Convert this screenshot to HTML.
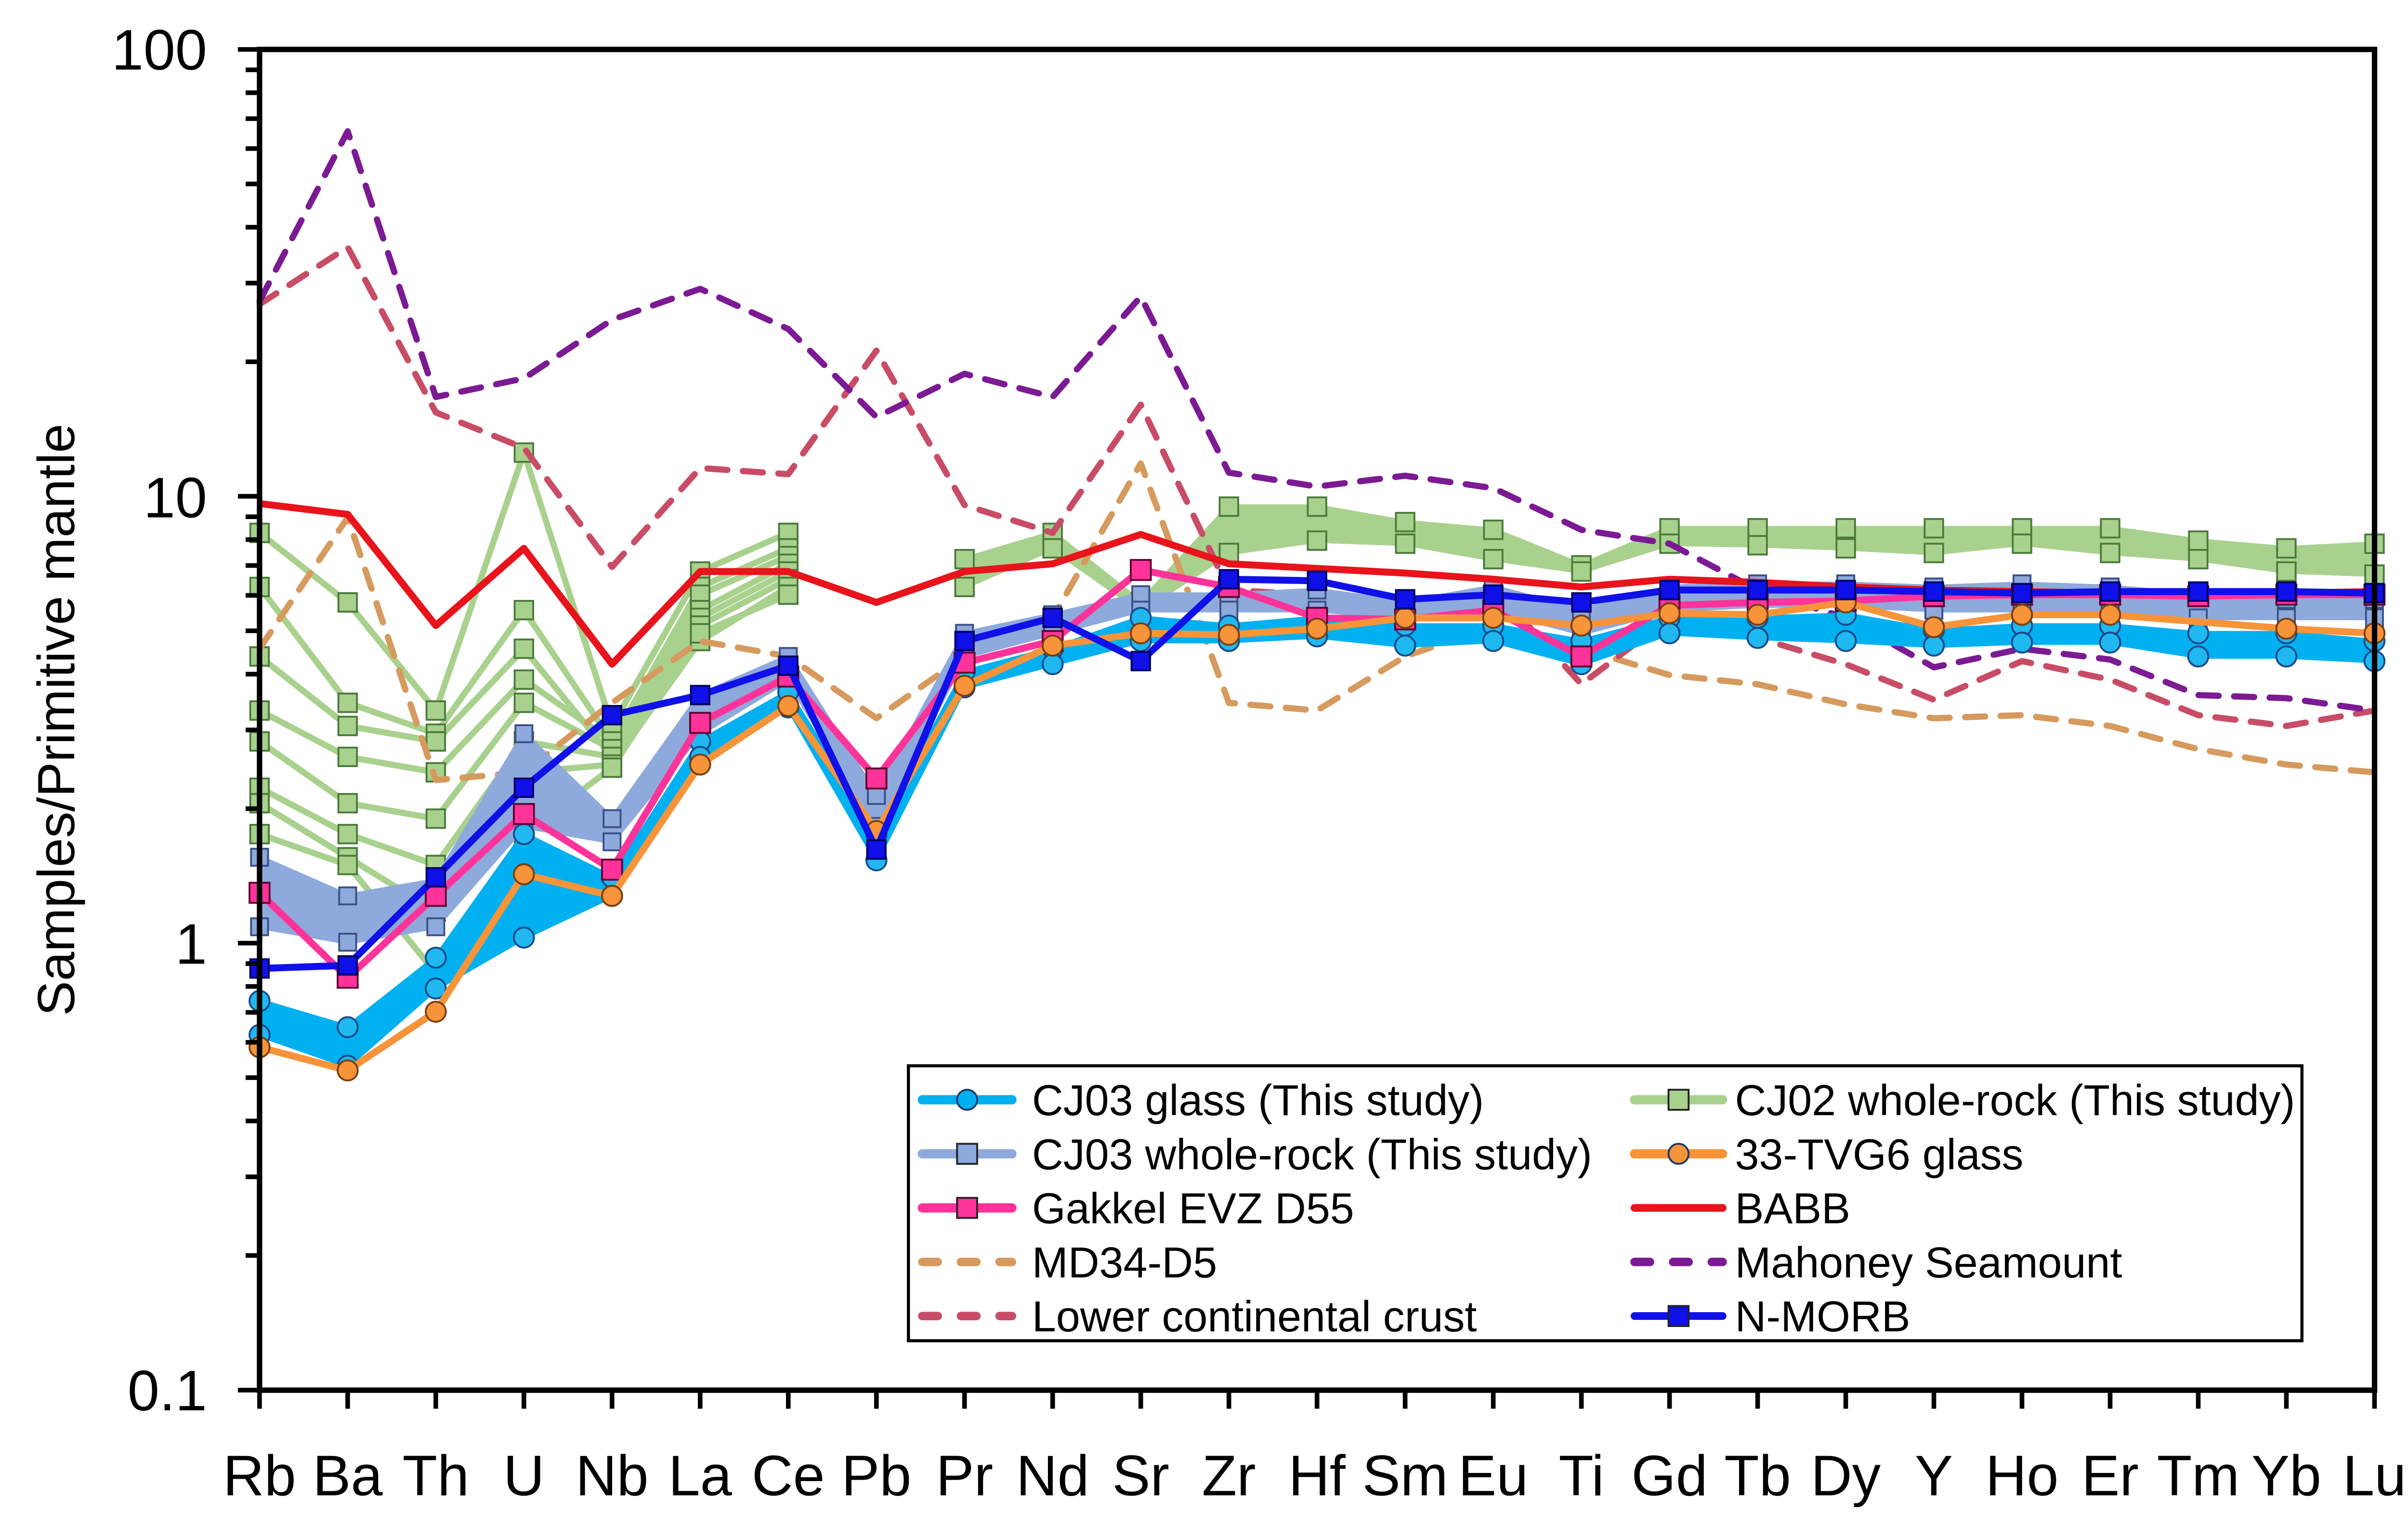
<!DOCTYPE html>
<html><head><meta charset="utf-8"><style>
html,body{margin:0;padding:0;background:#fff;}
svg{display:block;}
text{font-family:"Liberation Sans",Arial,sans-serif;fill:#000;}
</style></head><body>
<svg id="s" width="5030" height="3163" viewBox="0 0 1568 986" preserveAspectRatio="none" xmlns="http://www.w3.org/2000/svg">
<rect width="1568" height="986" fill="#fff"/>
<g id="data"></g>
<rect x="168" y="32" width="1369" height="868" fill="none" stroke="#000" stroke-width="3.5"/>
<g id="ticks" stroke="#000"></g>
<g font-size="37" text-anchor="end">
<text x="134" y="45">100</text>
<text x="134" y="335">10</text>
<text x="134" y="624">1</text>
<text x="134" y="913">0.1</text>
</g>
<text transform="translate(48,466) rotate(-90)" font-size="34" text-anchor="middle">Samples/Primitive mantle</text>
<g id="xl" font-size="37" text-anchor="middle"></g>
<rect x="588" y="690" width="902" height="178" fill="#fff" stroke="#000" stroke-width="2"/>
<g id="leg"></g>
<g font-size="28">
<text x="668" y="722">CJ03 glass (This study)</text>
<text x="668" y="757">CJ03 whole-rock (This study)</text>
<text x="668" y="792">Gakkel EVZ D55</text>
<text x="668" y="827">MD34-D5</text>
<text x="668" y="862">Lower continental crust</text>
<text x="1123" y="722">CJ02 whole-rock (This study)</text>
<text x="1123" y="757">33-TVG6 glass</text>
<text x="1123" y="792">BABB</text>
<text x="1123" y="827">Mahoney Seamount</text>
<text x="1123" y="862">N-MORB</text>
</g>
</svg>
<script>
const NS="http://www.w3.org/2000/svg";
const X=i=>168+57.04*i;
const els=["Rb","Ba","Th","U","Nb","La","Ce","Pb","Pr","Nd","Sr","Zr","Hf","Sm","Eu","Ti","Gd","Tb","Dy","Y","Ho","Er","Tm","Yb","Lu"];
function mk(p,tag,a){const e=document.createElementNS(NS,tag);for(const k in a)e.setAttribute(k,a[k]);p.appendChild(e);return e;}
const D=document.getElementById("data"),T=document.getElementById("ticks"),XL=document.getElementById("xl"),L=document.getElementById("leg");
els.forEach((n,i)=>{mk(T,"line",{x1:X(i),x2:X(i),y1:900,y2:912,"stroke-width":3});const t=mk(XL,"text",{x:X(i),y:968});t.textContent=n;});
for(let d=0;d<3;d++){const y0=32+289.3*(d+1);mk(T,"line",{x1:154,x2:168,y1:y0-289.3,y2:y0-289.3,"stroke-width":3});
 for(let m=2;m<=9;m++){const y=y0-289.3*Math.log10(m);mk(T,"line",{x1:159,x2:168,y1:y,y2:y,"stroke-width":3});}}
mk(T,"line",{x1:154,x2:168,y1:900,y2:900,"stroke-width":3});
const pts=(ys,off=0)=>ys.map((y,i)=>y==null?null:[X(i+off),y]).filter(p=>p);
const path=ps=>"M"+ps.map(p=>p.join(",")).join("L");
function line(ys,c,w,dash,off=0){mk(D,"path",{d:path(pts(ys,off)),fill:"none",stroke:c,"stroke-width":w,"stroke-dasharray":dash||"none","stroke-linejoin":"round","stroke-linecap":dash?"round":"butt"});}
function band(up,lo,c,off=0){const a=pts(up,off),b=pts(lo,off).reverse();mk(D,"path",{d:path(a.concat(b))+"Z",fill:c,stroke:c,"stroke-width":3});}
function marks(ys,type,fill,stroke,off=0,r=6.5){pts(ys,off).forEach(([x,y])=>{if(type=="c")mk(D,"circle",{cx:x,cy:y,r:r,fill:fill,stroke:stroke,"stroke-width":1.2});else mk(D,"rect",{x:x-r,y:y-r,width:2*r,height:2*r,fill:fill,stroke:stroke,"stroke-width":1.2});});}
const G="#A9D18E";
const gl=[[345,390,460,293,470,370,345],[380,455,475,395,480,380,355],[425,470,480,420,490,385,360],[460,490,500,440,480,395,365],[480,520,530,455,485,400,370],[510,540,560,480,490,405,375],[520,555,590,500,495,415,380],[540,560,630,540,497,410,385]];
gl.forEach(l=>line(l,G,4));
const gu=[362,345,390,328,328,338,343,366,342,342,342,342,342,342,350,355,352],glo=[380,355,395,358,350,352,362,370,352,353,355,358,352,358,362,370,372];
band(gu,glo,G,8);
gl.forEach(l=>marks(l,"s",G,"#4a7a3a",0,6));marks(gu,"s",G,"#4a7a3a",8,6);marks(glo,"s",G,"#4a7a3a",8,6);
line([420,335,505,500,455,415,425,465,425,400,300,455,460,425,405,420,437,443,456,465,463,470,485,495,500],"#D69A5E",4,"13,10");
line([197,160,267,290,367,303,307,227,327,345,262,382,385,400,380,443,400,413,430,453,428,440,463,470,460],"#C94C66",4,"13,10");
line([195,85,257,245,207,187,213,270,242,257,192,306,315,308,316,343,352,382,400,432,420,427,450,452,460],"#7B1A93",4,"13,10");
const wu=[555,580,570,475,530,450,425,515,410,398,385,385,382,390,380,395,380,378,378,380,378,380,385,388,388],wl=[600,610,600,535,545,475,440,535,425,410,395,395,395,400,395,410,395,392,392,395,395,395,400,400,400];
band(wu,wl,"#8EA9DB");marks(wu,"s","#8EA9DB","#3a4f8a",0,5.5);marks(wl,"s","#8EA9DB","#3a4f8a",0,5.5);
const cu=[648,665,620,540,568,480,448,540,435,420,400,405,400,405,405,415,400,400,398,408,405,405,410,410,415],cl=[670,690,640,607,580,490,458,557,445,430,415,415,412,418,415,430,410,413,415,418,416,416,425,425,428];
band(cu,cl,"#00B0F0");marks(cu,"c","#1FB8F0","#1a4a8a",0,6.5);marks(cl,"c","#1FB8F0","#1a4a8a",0,6.5);
line([326,333,405,355,430,370,370,390,370,365,346,365,368,371,375,380,375,377,380,382,383,384,384,384,383],"#E8131B",4.5);
const gk=[578,633,580,527,563,468,438,504,429,415,369,380,400,401,395,425,392,390,389,386,385,385,386,385,385];
line(gk,"#FF3399",4.5);marks(gk,"s","#FF3399","#600030",0,6.5);
const tv=[678,693,655,566,580,495,457,538,444,418,410,411,407,400,400,405,397,398,390,406,398,398,null,407,410];
line(tv,"#F7943A",4.5);marks(tv,"c","#F7943A","#7a4010",0,6.5);
const nm=[627,625,568,510,463,450,431,550,415,400,428,375,376,388,385,390,382,382,382,383,384,383,383,383,384];
line(nm,"#1010E8",4.5);marks(nm,"s","#1010E8","#000060",0,6);
function lg(x1,x2,y,c,w,dash,mt,mf){mk(L,"line",{x1:x1,x2:x2,y1:y,y2:y,stroke:c,"stroke-width":w,"stroke-dasharray":dash||"none","stroke-linecap":"round"});
 if(mt=="c")mk(L,"circle",{cx:(x1+x2)/2,cy:y,r:6.5,fill:mf,stroke:"#1a3a6a","stroke-width":1.2});
 if(mt=="s")mk(L,"rect",{x:(x1+x2)/2-6.5,y:y-6.5,width:13,height:13,fill:mf,stroke:"#222","stroke-width":1.2});}
lg(597,655,712,"#00B0F0",6,null,"c","#00B0F0");
lg(597,655,747,"#8EA9DB",6,null,"s","#8EA9DB");
lg(597,655,782,"#FF3399",6,null,"s","#FF3399");
lg(597,655,817,"#D69A5E",5.5,"10,15");
lg(597,655,852,"#C94C66",5.5,"10,15");
lg(1058,1115,712,"#A9D18E",6,null,"s","#A9D18E");
lg(1058,1115,747,"#F7943A",6,null,"c","#F7943A");
lg(1058,1115,782,"#E8131B",5);
lg(1058,1115,817,"#7B1A93",5.5,"10,15");
lg(1058,1115,852,"#1010E8",5,null,"s","#1010E8");
</script>
</body></html>
